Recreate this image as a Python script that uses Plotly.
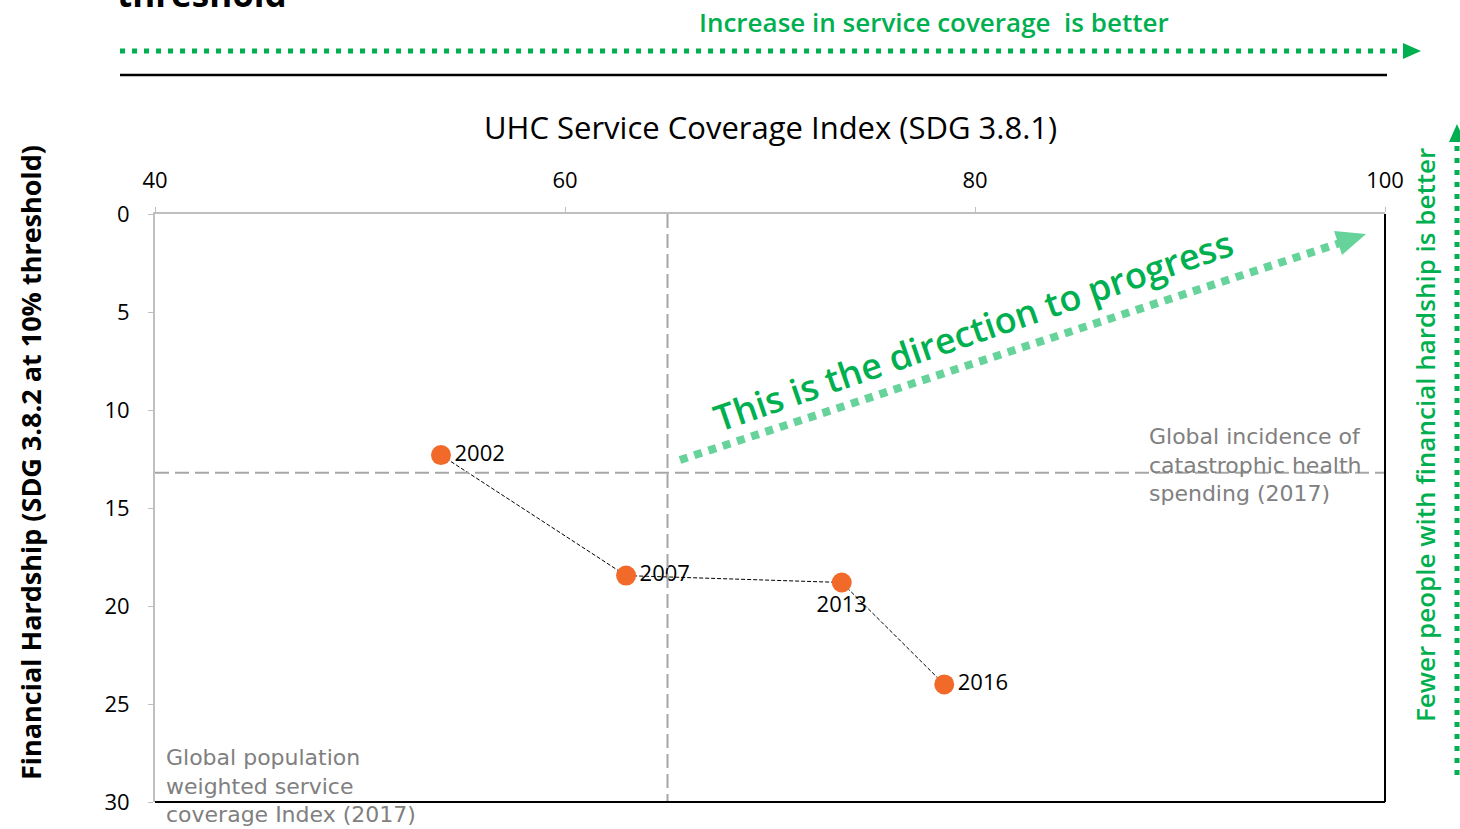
import plotly.graph_objects as go

# ---- data ----
years = ["2002", "2007", "2013", "2016"]
coverage = [53.95, 62.98, 73.5, 78.5]          # UHC service coverage index
hardship = [12.3, 18.45, 18.8, 24.0]           # % with catastrophic spending (10%)
label_pos = ["middle right", "middle right", "bottom center", "middle right"]
global_coverage_2017 = [65.0]
global_hardship_2017 = [13.2]
x_ticks = [40, 60, 80, 100]
y_ticks = [0, 5, 10, 15, 20, 25, 30]

W, H = 1460, 829
L, T = 155, 214
PW, PH = 1230, 588
R = W - L - PW
B = H - T - PH

def px(x):  # pixel x -> paper
    return (x - L) / PW

def py(y):  # pixel y -> paper
    return (T + PH - y) / PH

GREEN = "#00B050"
LGREEN = "#66D39A"
GRAY = "#808080"
FONT = "Open Sans"

fig = go.Figure()

fig.add_trace(go.Scatter(
    x=coverage, y=hardship, mode="lines+markers+text",
    text=years, textposition=label_pos,
    textfont=dict(family=FONT, size=22, color="black"),
    line=dict(color="black", width=1, dash="4px,2px"),
    marker=dict(color="#F26A2A", size=20),
    showlegend=False, cliponaxis=False,
))

shapes = []
# reference lines
shapes.append(dict(type="line", xref="x", yref="y", x0=global_coverage_2017[0], x1=global_coverage_2017[0],
                   y0=0, y1=30, line=dict(color="#A6A6A6", width=2, dash="14px,6px")))
shapes.append(dict(type="line", xref="x", yref="y", x0=40, x1=100, y0=global_hardship_2017[0],
                   y1=global_hardship_2017[0], line=dict(color="#A6A6A6", width=2, dash="14px,6px")))
# right and bottom black borders
shapes.append(dict(type="line", xref="paper", yref="paper", x0=1, x1=1, y0=0, y1=1,
                   line=dict(color="black", width=2)))
shapes.append(dict(type="line", xref="paper", yref="paper", x0=0, x1=1, y0=0, y1=0,
                   line=dict(color="black", width=2)))
# top green dotted arrow
shapes.append(dict(type="line", xref="paper", yref="paper", x0=px(120), x1=px(1400), y0=py(51), y1=py(51),
                   line=dict(color=GREEN, width=5, dash="5px,7px")))
shapes.append(dict(type="path", xref="paper", yref="paper",
                   path=f"M {px(1403)} {py(43)} L {px(1421)} {py(51)} L {px(1403)} {py(59)} Z",
                   fillcolor=GREEN, line=dict(width=0)))
# black rule
shapes.append(dict(type="line", xref="paper", yref="paper", x0=px(120), x1=px(1387), y0=py(75), y1=py(75),
                   line=dict(color="black", width=2.5)))
# right vertical green dotted arrow
shapes.append(dict(type="line", xref="paper", yref="paper", x0=px(1457), x1=px(1457), y0=py(775), y1=py(142),
                   line=dict(color=GREEN, width=5, dash="5px,7px")))
shapes.append(dict(type="path", xref="paper", yref="paper",
                   path=f"M {px(1449)} {py(142)} L {px(1457)} {py(124)} L {px(1465)} {py(142)} Z",
                   fillcolor=GREEN, line=dict(width=0)))
# diagonal progress arrow
shapes.append(dict(type="line", xref="paper", yref="paper", x0=px(680), x1=px(1340), y0=py(460), y1=py(243),
                   line=dict(color=LGREEN, width=8, dash="8px,7px")))
shapes.append(dict(type="path", xref="paper", yref="paper",
                   path=f"M {px(1342)} {py(255)} L {px(1366)} {py(234)} L {px(1334)} {py(231)} Z",
                   fillcolor=LGREEN, line=dict(width=0)))

annotations = [
    dict(text="<b>threshold</b>", xref="paper", yref="paper", x=px(115), y=py(19),
         xanchor="left", yanchor="bottom", showarrow=False,
         font=dict(family=FONT, size=35, color="black")),
    dict(text="Increase in service coverage  is better", xref="paper", yref="paper",
         x=px(934), y=py(22), xanchor="center", yanchor="middle", showarrow=False,
         font=dict(family=FONT, size=26, color=GREEN, weight=600)),
    dict(text="UHC Service Coverage Index (SDG 3.8.1)", xref="paper", yref="paper",
         x=px(770), y=py(127), xanchor="center", yanchor="middle", showarrow=False,
         font=dict(family=FONT, size=31, color="black")),
    dict(text="<b>Financial Hardship (SDG 3.8.2 at 10% threshold)</b>", xref="paper", yref="paper",
         x=px(30), y=py(463), xanchor="center", yanchor="middle", textangle=-90, showarrow=False,
         font=dict(family=FONT, size=27, color="black")),
    dict(text="Fewer people with financial hardship is better", xref="paper", yref="paper",
         x=px(1425), y=py(435), xanchor="center", yanchor="middle", textangle=-90, showarrow=False,
         font=dict(family=FONT, size=26, color=GREEN, weight=600)),
    dict(text="This is the direction to progress", xref="paper", yref="paper",
         x=px(973), y=py(330), xanchor="center", yanchor="middle", textangle=-19, showarrow=False,
         font=dict(family=FONT, size=36, color=GREEN, weight=600)),
    dict(text="Global incidence of<br>catastrophic health<br>spending (2017)", xref="paper", yref="paper",
         x=px(1147), y=py(422), xanchor="left", yanchor="top", align="left", showarrow=False,
         font=dict(family="DejaVu Sans", size=22, color=GRAY)),
    dict(text="Global population<br>weighted service<br>coverage Index (2017)", xref="paper", yref="paper",
         x=px(164), y=py(743), xanchor="left", yanchor="top", align="left", showarrow=False,
         font=dict(family="DejaVu Sans", size=22, color=GRAY)),
]

fig.update_layout(
    width=W, height=H,
    margin=dict(l=L, r=R, t=T, b=B, autoexpand=False),
    paper_bgcolor="white", plot_bgcolor="white",
    shapes=shapes, annotations=annotations,
    xaxis=dict(range=[40, 100], side="top", tickvals=x_ticks, showgrid=False, zeroline=False,
               showline=True, linecolor="#BFBFBF", linewidth=2, ticks="outside", ticklen=5,
               tickcolor="#BFBFBF", ticklabelstandoff=10,
               tickfont=dict(family=FONT, size=22, color="black")),
    yaxis=dict(range=[30, 0], tickvals=y_ticks, showgrid=False, zeroline=False,
               showline=True, linecolor="#BFBFBF", linewidth=2, ticks="outside", ticklen=5,
               tickcolor="#BFBFBF", ticklabelstandoff=14,
               tickfont=dict(family=FONT, size=22, color="black")),
)

fig.write_html("out.html", config={"displayModeBar": False},
               post_script="document.body.style.margin='0px';document.body.style.padding='0px';")
